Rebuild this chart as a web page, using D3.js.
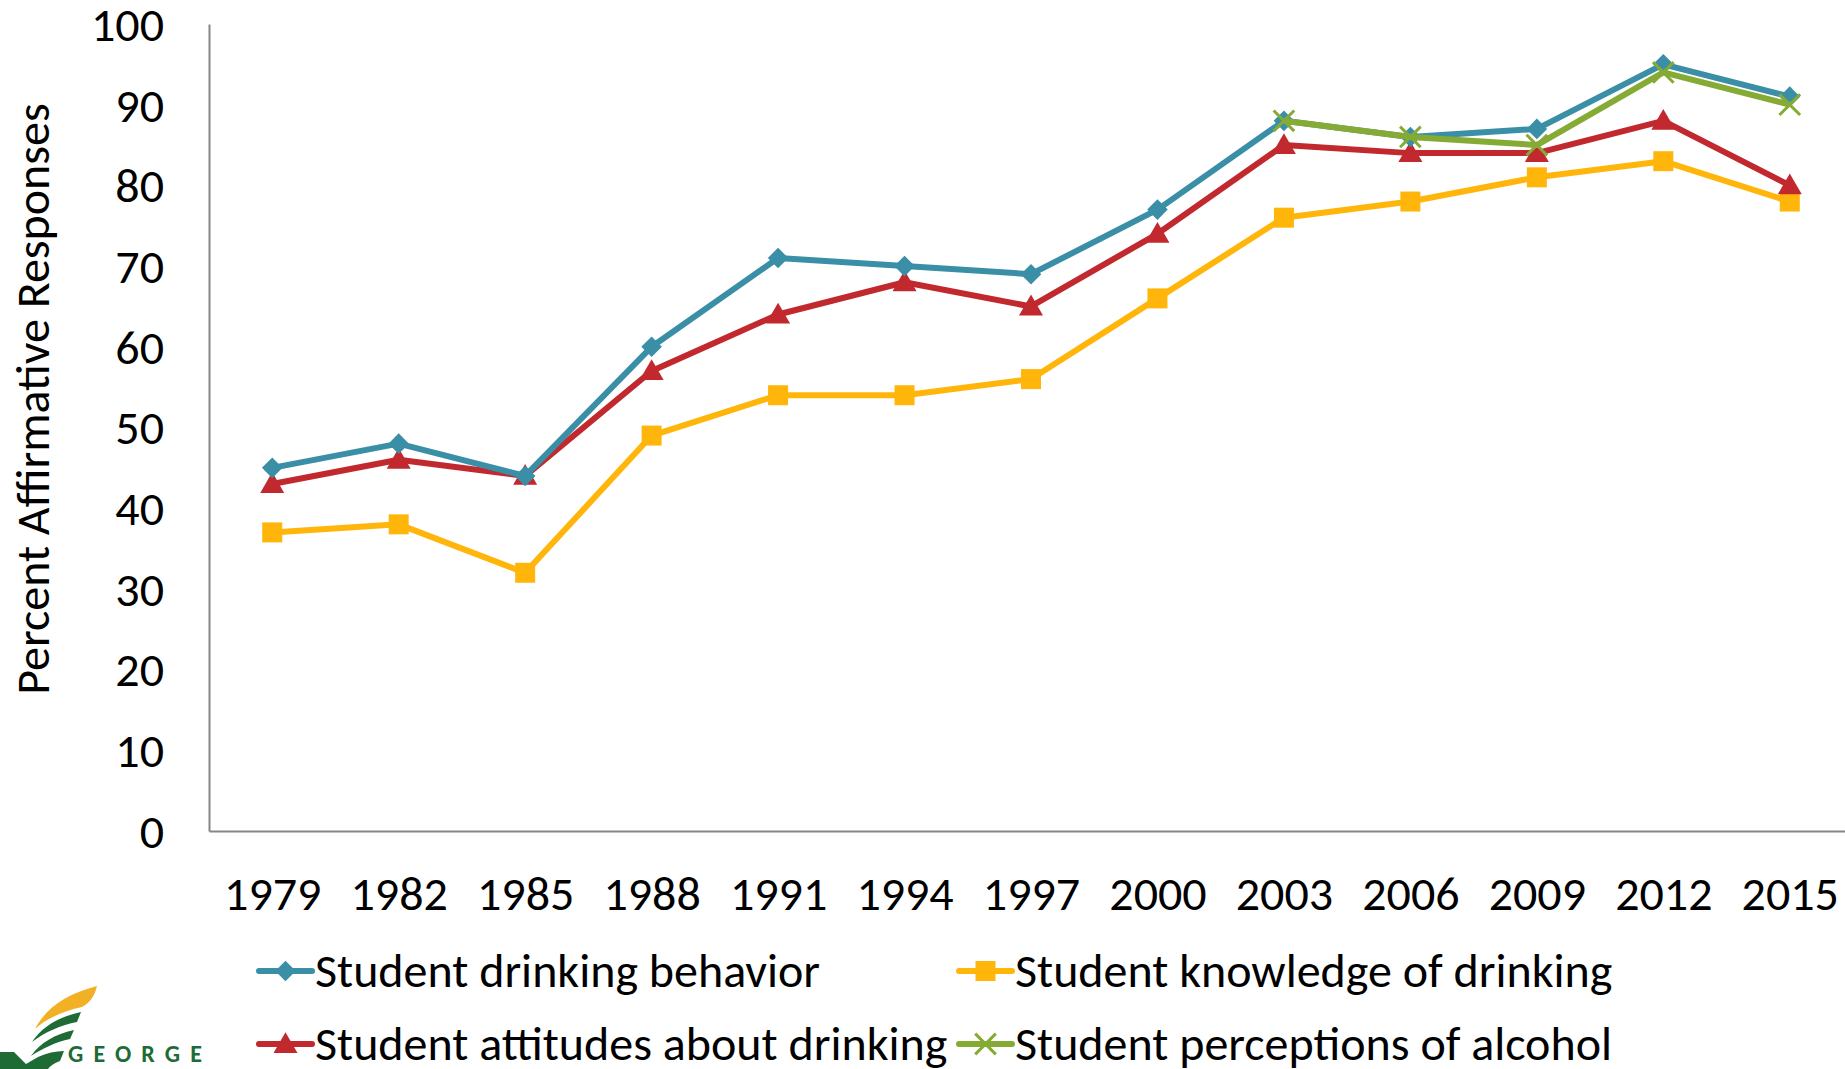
<!DOCTYPE html>
<html lang="en">
<head>
    <meta charset="UTF-8">
    <title>Percent Affirmative Responses</title>
    <script src="https://d3js.org/d3.v7.min.js"></script>
    <style>
        body { margin: 0; background: #fff; }
        text { font-family: Carlito, Lato, "Open Sans", sans-serif; fill: #000; }
        .axis path { stroke: #868686; stroke-width: 2px; }
        .axis line { display: none; }
    </style>
</head>
<body>
    <svg width="1845" height="1069"></svg>
    <script>
        const years = ["1979", "1982", "1985", "1988", "1991", "1994", "1997", "2000", "2003", "2006", "2009", "2012", "2015"];
        const behavior = [45, 48, 44, 60, 71, 70, 69, 77, 88, 86, 87, 95, 91];
        const knowledge = [37, 38, 32, 49, 54, 54, 56, 66, 76, 78, 81, 83, 78];
        const attitudes = [43, 46, 44, 57, 64, 68, 65, 74, 85, 84, 84, 88, 80];
        const perceptions = [null, null, null, null, null, null, null, null, 88, 86, 85, 94, 90];
        const yTicks = [0, 10, 20, 30, 40, 50, 60, 70, 80, 90, 100];

        const series = [
            {name: "Student drinking behavior", values: behavior, color: "#3A8FA7", symbol: d3.symbolDiamond2},
            {name: "Student knowledge of drinking", values: knowledge, color: "#FFB50A", symbol: d3.symbolSquare},
            {name: "Student attitudes about drinking", values: attitudes, color: "#C1292E", symbol: d3.symbolTriangle},
            {name: "Student perceptions of alcohol", values: perceptions, color: "#85AB34", symbol: d3.symbolTimes}
        ];
        // drawing order: red and yellow under blue and green
        const drawOrder = [1, 2, 0, 3];

        const svg = d3.select("svg");
        const plotLeft = 209, plotRight = 1853, plotTop = 24, plotBottom = 831;
        const fontSize = 48;

        const x = d3.scalePoint().domain(years).range([plotLeft, plotRight]).padding(0.5);
        const y = d3.scaleLinear().domain([0, 100]).range([plotBottom, plotTop]);

        svg.append("g")
            .attr("class", "axis")
            .attr("transform", `translate(${plotLeft},0)`)
            .call(d3.axisLeft(y).tickValues(yTicks).tickSize(0).tickPadding(45).tickSizeOuter(0))
            .selectAll("text")
            .attr("font-size", fontSize)
            .attr("dy", "0.34em");

        svg.append("g")
            .attr("class", "axis")
            .attr("transform", `translate(0,${plotBottom})`)
            .call(d3.axisBottom(x).tickSize(0).tickPadding(45).tickSizeOuter(0))
            .selectAll("text")
            .attr("font-size", fontSize);

        svg.selectAll(".axis").attr("font-family", null);
        svg.selectAll(".axis text").attr("fill", "#000");

        svg.append("text")
            .attr("transform", `translate(49,${(104 + 694) / 2}) rotate(-90)`)
            .attr("text-anchor", "middle")
            .attr("font-size", fontSize)
            .text("Percent Affirmative Responses");

        const line = d3.line()
            .defined(d => d != null)
            .x((d, i) => x(years[i]))
            .y(d => y(d));

        function symbolPath(s) {
            if (s.symbol === d3.symbolTimes) return d3.symbol(s.symbol, 280)();
            if (s.symbol === d3.symbolTriangle) return d3.symbol(s.symbol, 250)();
            if (s.symbol === d3.symbolDiamond2) return d3.symbol(s.symbol, 270)();
            return d3.symbol(s.symbol, 400)();
        }

        drawOrder.forEach(k => {
            const s = series[k];
            const g = svg.append("g");
            g.append("path")
                .datum(s.values)
                .attr("d", line)
                .attr("fill", "none")
                .attr("stroke", s.color)
                .attr("stroke-width", 6)
                .attr("stroke-linejoin", "round");
            g.selectAll("path.mark")
                .data(s.values.map((v, i) => ({v, i})).filter(d => d.v != null))
                .join("path")
                .attr("class", "mark")
                .attr("transform", d => `translate(${x(years[d.i])},${y(d.v) + (s.symbol === d3.symbolTriangle ? 2 : 0)})`)
                .attr("d", symbolPath(s))
                .attr("fill", s.symbol === d3.symbolTimes ? "none" : s.color)
                .attr("stroke", s.color)
                .attr("stroke-width", s.symbol === d3.symbolTimes ? 3 : 0);
        });

        // legend
        const legendPos = [[259, 971], [959, 971], [259, 1044], [959, 1044]];
        series.forEach((s, k) => {
            const [lx, ly] = legendPos[k];
            const g = svg.append("g").attr("transform", `translate(${lx},${ly})`);
            g.append("line")
                .attr("x1", 0).attr("x2", 53)
                .attr("stroke", s.color)
                .attr("stroke-width", 6)
                .attr("stroke-linecap", "round");
            g.append("path")
                .attr("transform", `translate(26.5,${s.symbol === d3.symbolTriangle ? 2 : 0})`)
                .attr("d", symbolPath(s))
                .attr("fill", s.symbol === d3.symbolTimes ? "none" : s.color)
                .attr("stroke", s.color)
                .attr("stroke-width", s.symbol === d3.symbolTimes ? 3 : 0);
            g.append("text")
                .attr("x", 56)
                .attr("dy", "0.34em")
                .attr("font-size", fontSize)
                .text(s.name);
        });

        // university logo (partially cut off at the bottom left)
        const logo = svg.append("g").attr("class", "logo");
        logo.append("path")
            .attr("d", "M35,1029 C46,1008 66,994 97,986 C95,995 90,1003 82,1007 C64,1011 47,1018 35,1029 Z")
            .attr("fill", "#F2B124");
        logo.append("path")
            .attr("d", "M32,1042 C42,1027 58,1017 81,1012 L77,1022 C61,1025 45,1032 32,1042 Z")
            .attr("fill", "#1F6B36");
        logo.append("path")
            .attr("d", "M31,1056 C40,1043 55,1034 74,1030 L70,1039 C56,1042 43,1048 31,1056 Z")
            .attr("fill", "#1F6B36");
        logo.append("path")
            .attr("d", "M0,1069 L0,1052 L14,1052 L26,1064 L38,1057 C46,1053 56,1051 64,1051 L60,1061 C54,1063 50,1066 48,1069 Z")
            .attr("fill", "#1F6B36");
        logo.append("text")
            .attr("x", 68)
            .attr("y", 1062)
            .attr("font-family", "'DejaVu Sans', sans-serif")
            .attr("font-weight", "bold")
            .attr("font-size", 24)
            .attr("textLength", 134)
            .attr("lengthAdjust", "spacing")
            .style("fill", "#1F6B36")
            .text("GEORGE");
    </script>
</body>
</html>
